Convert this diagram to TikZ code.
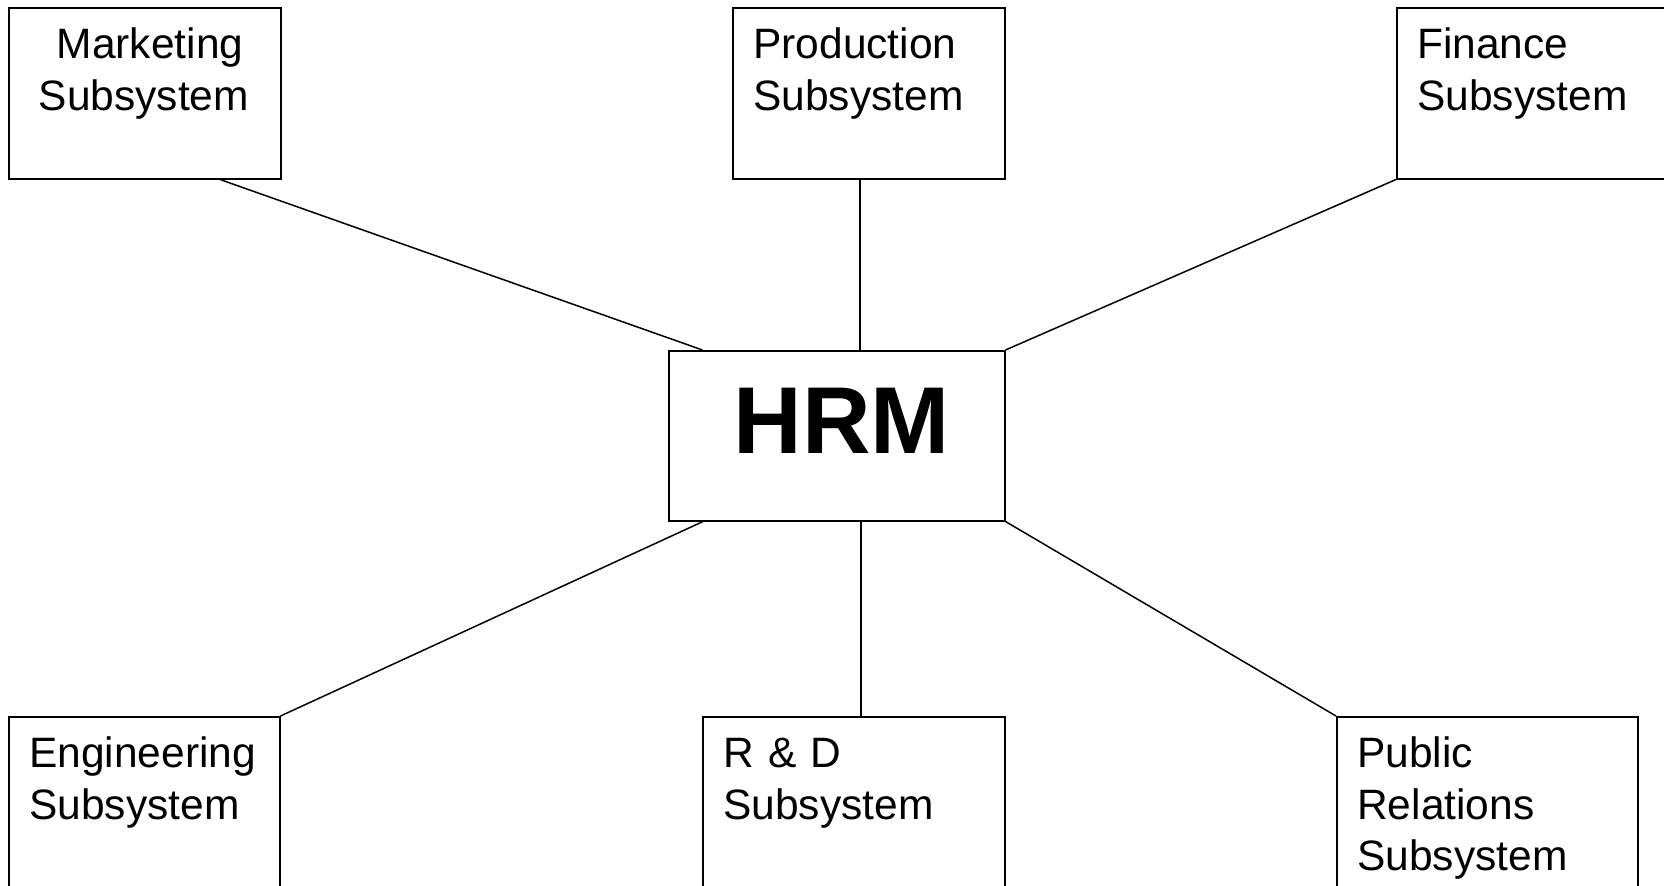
\documentclass[tikz,border=0pt]{standalone}
\usepackage{fontspec}
\setmainfont{Liberation Sans}
\usetikzlibrary{calc}
\tikzset{
	subsys/.style={draw, line width=0.75pt, anchor=north west, inner ysep=0pt, inner xsep=10.25pt,
		align=left, font=\fontsize{21.25}{25.75}\selectfont, text height=25.5pt, text depth=60pt},
	hrmbox/.style={draw, line width=0.75pt, anchor=north west, inner sep=0pt, minimum width=168pt,
		font=\fontsize{47.5}{50}\selectfont\bfseries, text height=51.5pt, text depth=33.5pt},
	link/.style={line width=0.75pt}
}

\begin{document}
\begin{tikzpicture}[x=0.5pt, y=-0.5pt]
		\useasboundingbox (0,0) rectangle (1664,885);
		\clip (0,0) rectangle (1664,885);
		
		\node[hrmbox] (hrm) at (668,350) {\hspace*{5pt}HRM};
		
		% top row
		\node[subsys, inner xsep=15pt, text width=106pt] (mkt) at (8,7) {\hspace*{9pt}Marketing\\Subsystem};
		\node[subsys, text width=115.5pt] (prod) at (732,7) {Production\\Subsystem};
		\node[subsys, text width=115.5pt] (fin) at (1396,7) {Finance\\Subsystem};
		
		% bottom row
		\node[subsys, text width=115pt] (eng) at (8,716) {Engineering\\Subsystem};
		\node[subsys, text width=130.5pt] (rd) at (702,716) {R \& D\\Subsystem};
		\node[subsys, text width=130pt] (pub) at (1336,716) {Public\\Relations\\Subsystem};
		
		\coordinate (ptop) at ($(prod.south west)+(128,0)$);
		\coordinate (rtop) at ($(rd.north west)+(159,0)$);
		
		\draw[link] ($(mkt.south west)+(212,0)$) -- ($(hrm.north west)+(34.5,0)$);
		\draw[link] (ptop) -- (ptop |- hrm.north);
		\draw[link] (fin.south west) -- (hrm.north east);
		
		\draw[link] (eng.north east) -- ($(hrm.south west)+(35,0)$);
		\draw[link] (rtop) -- (rtop |- hrm.south);
		\draw[link] (hrm.south east) -- (pub.north west);
		
\end{tikzpicture}
\end{document}
